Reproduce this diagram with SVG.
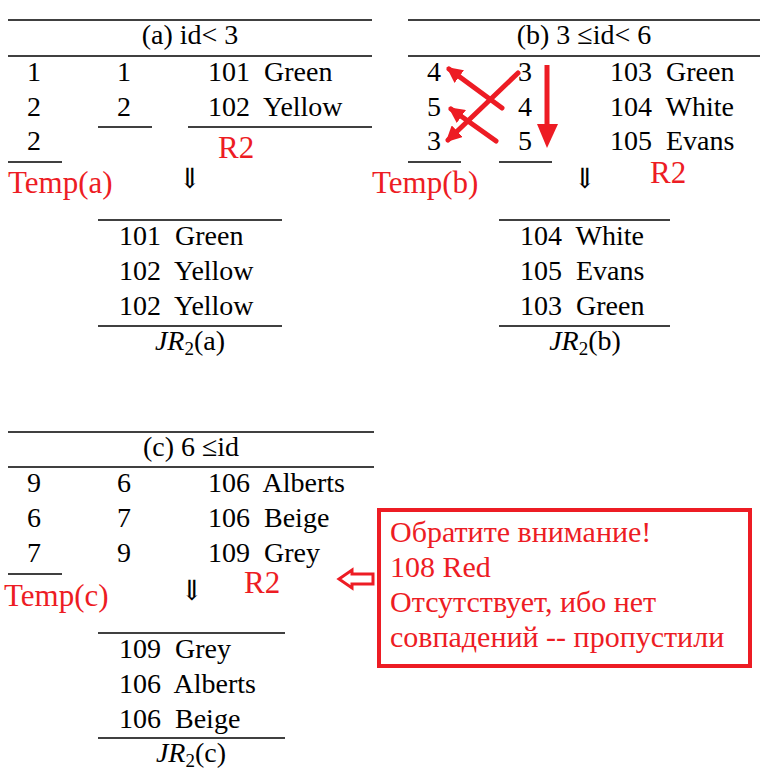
<svg xmlns="http://www.w3.org/2000/svg" width="777" height="770" viewBox="0 0 777 770" font-family="'Liberation Serif', 'DejaVu Serif', serif">
<style>
.t{font-family:'Liberation Serif','DejaVu Serif',serif;font-size:28px;fill:#000}
.r{font-family:'Liberation Serif','DejaVu Serif',serif;font-size:31px;fill:#ed1c24}
.bx{font-family:'Liberation Serif','DejaVu Serif',serif;font-size:30px;fill:#ed1c24}
.ln{stroke:#000;stroke-width:1.5;fill:none}
.ra{stroke:#ed1c24;stroke-width:5;fill:none;stroke-linecap:round}
.m{font-style:italic}
</style>
<defs>
<marker id="ah" viewBox="0 0 10 10" refX="8" refY="5" markerWidth="3.2" markerHeight="3.2" orient="auto" markerUnits="strokeWidth">
<path d="M0,0 L10,5 L0,10 z" fill="#ed1c24"/>
</marker>
</defs>
<rect width="777" height="770" fill="#fff"/>

<g id="table-a">
<line class="ln" x1="8" y1="20" x2="372" y2="20"/>
<text class="t" x="190" y="44" text-anchor="middle">(a) id&lt; 3</text>
<line class="ln" x1="8" y1="56" x2="372" y2="56"/>
<text class="t" x="34" y="81" text-anchor="middle">1</text>
<text class="t" x="34" y="116" text-anchor="middle">2</text>
<text class="t" x="34" y="150" text-anchor="middle">2</text>
<line class="ln" x1="8" y1="162" x2="62" y2="162"/>
<text class="t" x="124" y="81" text-anchor="middle">1</text>
<text class="t" x="124" y="116" text-anchor="middle">2</text>
<line class="ln" x1="98" y1="127" x2="152" y2="127"/>
<text class="t" x="208" y="81" xml:space="preserve">101  Green</text>
<text class="t" x="208" y="116" xml:space="preserve">102  Yellow</text>
<line class="ln" x1="188" y1="127" x2="372" y2="127"/>
<text class="r" x="218" y="158">R2</text>
<text class="r" x="8" y="193">Temp(a)</text>
<text class="t" x="190" y="188" text-anchor="middle">⇓</text>
</g>

<g id="result-a">
<line class="ln" x1="98" y1="220" x2="282" y2="220"/>
<text class="t" x="119" y="245" xml:space="preserve">101  Green</text>
<text class="t" x="119" y="280" xml:space="preserve">102  Yellow</text>
<text class="t" x="119" y="315" xml:space="preserve">102  Yellow</text>
<line class="ln" x1="98" y1="326" x2="282" y2="326"/>
<text class="t" x="190" y="350" text-anchor="middle"><tspan class="m">JR</tspan><tspan font-size="19" dy="5">2</tspan><tspan dy="-5">(a)</tspan></text>
</g>

<g id="table-b">
<line class="ln" x1="408" y1="20" x2="760" y2="20"/>
<text class="t" x="584" y="44" text-anchor="middle">(b) 3 ≤id&lt; 6</text>
<line class="ln" x1="408" y1="56" x2="760" y2="56"/>
<text class="t" x="434" y="81" text-anchor="middle">4</text>
<text class="t" x="434" y="116" text-anchor="middle">5</text>
<text class="t" x="434" y="150" text-anchor="middle">3</text>
<line class="ln" x1="408" y1="162" x2="461" y2="162"/>
<text class="t" x="525" y="81" text-anchor="middle">3</text>
<text class="t" x="525" y="116" text-anchor="middle">4</text>
<text class="t" x="525" y="150" text-anchor="middle">5</text>
<line class="ln" x1="499" y1="162" x2="552" y2="162"/>
<text class="t" x="610" y="81" xml:space="preserve">103  Green</text>
<text class="t" x="610" y="116" xml:space="preserve">104  White</text>
<text class="t" x="610" y="150" xml:space="preserve">105  Evans</text>
<text class="r" x="650" y="183">R2</text>
<text class="r" x="372" y="193">Temp(b)</text>
<text class="t" x="585" y="188" text-anchor="middle">⇓</text>
</g>

<g id="result-b">
<line class="ln" x1="499" y1="220" x2="670" y2="220"/>
<text class="t" x="520" y="245" xml:space="preserve">104  White</text>
<text class="t" x="520" y="280" xml:space="preserve">105  Evans</text>
<text class="t" x="520" y="315" xml:space="preserve">103  Green</text>
<line class="ln" x1="499" y1="326" x2="670" y2="326"/>
<text class="t" x="585" y="350" text-anchor="middle"><tspan class="m">JR</tspan><tspan font-size="19" dy="5">2</tspan><tspan dy="-5">(b)</tspan></text>
</g>

<g id="table-c">
<line class="ln" x1="8" y1="432" x2="374" y2="432"/>
<text class="t" x="191" y="456" text-anchor="middle">(c) 6 ≤id</text>
<line class="ln" x1="8" y1="467" x2="374" y2="467"/>
<text class="t" x="34" y="492" text-anchor="middle">9</text>
<text class="t" x="34" y="527" text-anchor="middle">6</text>
<text class="t" x="34" y="562" text-anchor="middle">7</text>
<line class="ln" x1="8" y1="574" x2="62" y2="574"/>
<text class="t" x="124" y="492" text-anchor="middle">6</text>
<text class="t" x="124" y="527" text-anchor="middle">7</text>
<text class="t" x="124" y="562" text-anchor="middle">9</text>
<text class="t" x="208" y="492" xml:space="preserve">106  Alberts</text>
<text class="t" x="208" y="527" xml:space="preserve">106  Beige</text>
<text class="t" x="208" y="562" xml:space="preserve">109  Grey</text>
<text class="r" x="244" y="593">R2</text>
<text class="r" x="4" y="606">Temp(c)</text>
<text class="t" x="192" y="600" text-anchor="middle">⇓</text>
</g>

<g id="result-c">
<line class="ln" x1="98" y1="633" x2="285" y2="633"/>
<text class="t" x="119" y="658" xml:space="preserve">109  Grey</text>
<text class="t" x="119" y="693" xml:space="preserve">106  Alberts</text>
<text class="t" x="119" y="728" xml:space="preserve">106  Beige</text>
<line class="ln" x1="98" y1="738" x2="285" y2="738"/>
<text class="t" x="191" y="762" text-anchor="middle"><tspan class="m">JR</tspan><tspan font-size="19" dy="5">2</tspan><tspan dy="-5">(c)</tspan></text>
</g>

<g id="note">
<rect x="379" y="510" width="371" height="156" fill="none" stroke="#ed1c24" stroke-width="4"/>
<text class="bx" x="390" y="542">Обратите внимание!</text>
<text class="bx" x="390" y="577">108 Red</text>
<text class="bx" x="390" y="612">Отсутствует, ибо нет</text>
<text class="bx" x="390" y="647">совпадений -- пропустили</text>
</g>

<g id="connectors">
<line class="ra" x1="502" y1="108" x2="449" y2="69" marker-end="url(#ah)"/>
<line class="ra" x1="496" y1="141" x2="451" y2="109" marker-end="url(#ah)"/>
<line class="ra" x1="518" y1="73" x2="448" y2="140" marker-end="url(#ah)"/>
<line x1="547" y1="65" x2="547" y2="128" stroke="#ed1c24" stroke-width="5"/>
<path d="M537,124 L558,124 L547,148 z" fill="#ed1c24"/>
<path d="M373,574 L352,574 L352,570 L339,579 L352,588 L352,584 L373,584 z" fill="none" stroke="#ed1c24" stroke-width="3" stroke-linejoin="miter"/>
</g>
</svg>
